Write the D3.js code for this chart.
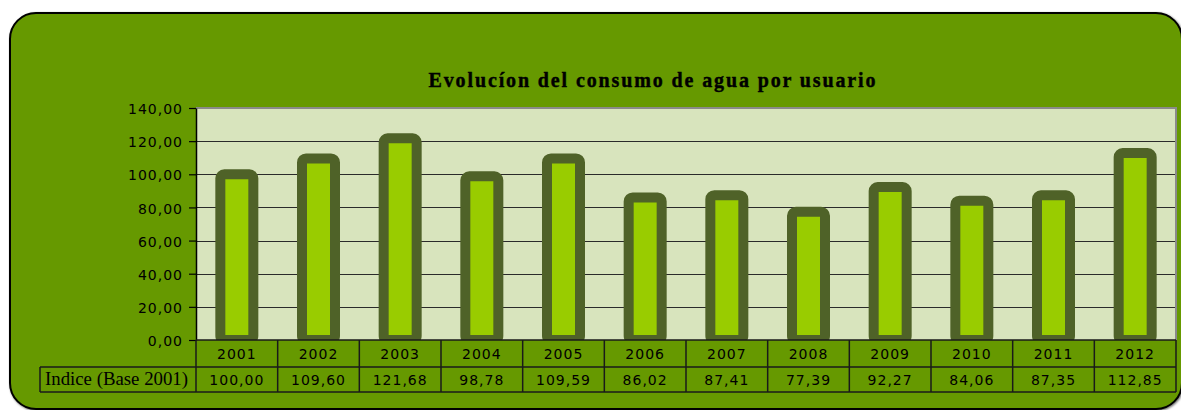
<!DOCTYPE html>
<html>
<head>
<meta charset="utf-8">
<script src="https://cdn.jsdelivr.net/npm/d3@7"></script>
<style>
  html, body { margin: 0; padding: 0; background: #ffffff; }
  svg { display: block; }
</style>
</head>
<body>
<svg id="chart" width="1181" height="410"></svg>
<script>
// Water consumption index per user, base year 2001 = 100
const years = ["2001","2002","2003","2004","2005","2006","2007","2008","2009","2010","2011","2012"];
const indexValues = [100.00, 109.60, 121.68, 98.78, 109.59, 86.02, 87.41, 77.39, 92.27, 84.06, 87.35, 112.85];
const yTicks = [0, 20, 40, 60, 80, 100, 120, 140];
const titleText = "Evolucíon del consumo de agua por usuario";
const rowLabel = "Indice (Base 2001)";

const svg = d3.select("#chart");

const plot = { left: 196, right: 1176, top: 108, bottom: 340 };
const tableRows = [340, 367, 392];
const labelLeft = 40;

const locale = d3.formatLocale({ decimal: ",", thousands: ".", grouping: [3], currency: ["", "€"] });
const fmt = locale.format(".2f");

const x = d3.scaleBand().domain(years).range([plot.left, plot.right]).padding(0);
const y = d3.scaleLinear().domain([0, 140]).range([plot.bottom, plot.top]);

// Shadow for the outer panel
const defs = svg.append("defs");
const sh = defs.append("filter").attr("id", "panelShadow").attr("x", "-5%").attr("y", "-5%").attr("width", "110%").attr("height", "110%");
sh.append("feDropShadow").attr("dx", 1).attr("dy", 1).attr("stdDeviation", 1).attr("flood-color", "#000").attr("flood-opacity", 0.6);

defs.append("clipPath").attr("id", "plotClip")
  .append("rect")
  .attr("x", plot.left).attr("y", plot.top)
  .attr("width", plot.right - plot.left).attr("height", plot.bottom - plot.top);

// Outer rounded panel
svg.append("rect")
  .attr("x", 10).attr("y", 13)
  .attr("width", 1172).attr("height", 396)
  .attr("rx", 26).attr("ry", 26)
  .attr("fill", "#669900")
  .attr("stroke", "#000").attr("stroke-width", 2)
  .attr("filter", "url(#panelShadow)");

// Title
svg.append("text")
  .attr("x", 652).attr("y", 87)
  .attr("text-anchor", "middle")
  .attr("font-family", "'Liberation Serif', serif")
  .attr("font-weight", "bold")
  .attr("font-size", 20)
  .attr("textLength", 447)
  .attr("lengthAdjust", "spacing")
  .attr("stroke", "#000").attr("stroke-width", 0.4)
  .attr("fill", "#000")
  .text(titleText);

// Plot background
svg.append("rect")
  .attr("x", plot.left).attr("y", plot.top)
  .attr("width", plot.right - plot.left).attr("height", plot.bottom - plot.top)
  .attr("fill", "#d8e4bd");

// Horizontal gridlines
svg.append("g")
  .selectAll("line")
  .data(yTicks.filter(t => t > 0 && t < 140))
  .join("line")
  .attr("x1", plot.left).attr("x2", plot.right)
  .attr("y1", d => Math.round(y(d)) + 0.5).attr("y2", d => Math.round(y(d)) + 0.5)
  .attr("stroke", "#2a2a2a").attr("stroke-width", 1.2);

// Bars
svg.append("g")
  .attr("clip-path", "url(#plotClip)")
  .selectAll("rect")
  .data(indexValues)
  .join("rect")
  .attr("x", (d, i) => x(years[i]) + x.bandwidth() / 2 - 16.5)
  .attr("width", 33)
  .attr("y", d => y(d))
  .attr("height", d => y(0) - y(d))
  .attr("rx", 4).attr("ry", 4)
  .attr("fill", "#99cc00")
  .attr("stroke", "#4f6228")
  .attr("stroke-width", 10);

// Plot border (top and right)
svg.append("path")
  .attr("d", `M${plot.left},${plot.top} H${plot.right} V${plot.bottom}`)
  .attr("fill", "none")
  .attr("stroke", "#8a8a8a").attr("stroke-width", 2);

// Y axis
const yAxis = d3.axisLeft(y)
  .tickValues(yTicks)
  .tickFormat(fmt)
  .tickSize(7)
  .tickSizeOuter(0)
  .tickPadding(6);

const gy = svg.append("g")
  .attr("transform", `translate(${plot.left},0)`)
  .call(yAxis);
gy.select(".domain").attr("stroke", "#000").attr("stroke-width", 1.5);
gy.selectAll(".tick line").attr("stroke", "#000").attr("stroke-width", 1.2);
gy.selectAll(".tick text")
  .attr("font-family", "'DejaVu Sans', sans-serif")
  .attr("font-size", 14)
  .attr("letter-spacing", 1)
  .attr("fill", "#000")
  .attr("dy", "0.4em");

// Data table under the axis
const table = svg.append("g").attr("stroke", "#1a1a1a").attr("stroke-width", 1.5).attr("fill", "none");
table.append("line").attr("x1", plot.left).attr("x2", plot.right).attr("y1", tableRows[0]).attr("y2", tableRows[0]);
table.append("line").attr("x1", labelLeft).attr("x2", plot.right).attr("y1", tableRows[1]).attr("y2", tableRows[1]);
table.append("line").attr("x1", labelLeft).attr("x2", plot.right).attr("y1", tableRows[2]).attr("y2", tableRows[2]);
table.append("line").attr("x1", labelLeft).attr("x2", labelLeft).attr("y1", tableRows[1]).attr("y2", tableRows[2]);
table.selectAll("line.col")
  .data(years.map(d => x(d)).concat([plot.right]))
  .join("line")
  .attr("class", "col")
  .attr("x1", d => d).attr("x2", d => d)
  .attr("y1", tableRows[0]).attr("y2", tableRows[2]);

const txt = svg.append("g")
  .attr("font-family", "'DejaVu Sans', sans-serif")
  .attr("font-size", 14)
  .attr("letter-spacing", 1)
  .attr("fill", "#000")
  .attr("text-anchor", "middle");

txt.selectAll("text.year")
  .data(years)
  .join("text")
  .attr("class", "year")
  .attr("x", d => x(d) + x.bandwidth() / 2)
  .attr("y", 359)
  .text(d => d);

txt.selectAll("text.val")
  .data(indexValues)
  .join("text")
  .attr("class", "val")
  .attr("x", (d, i) => x(years[i]) + x.bandwidth() / 2)
  .attr("y", 385)
  .text(d => fmt(d));

svg.append("text")
  .attr("x", 45).attr("y", 385)
  .attr("font-family", "'Liberation Serif', serif")
  .attr("font-size", 18)
  .attr("textLength", 143)
  .attr("lengthAdjust", "spacingAndGlyphs")
  .attr("fill", "#000")
  .text(rowLabel);
</script>
</body>
</html>
